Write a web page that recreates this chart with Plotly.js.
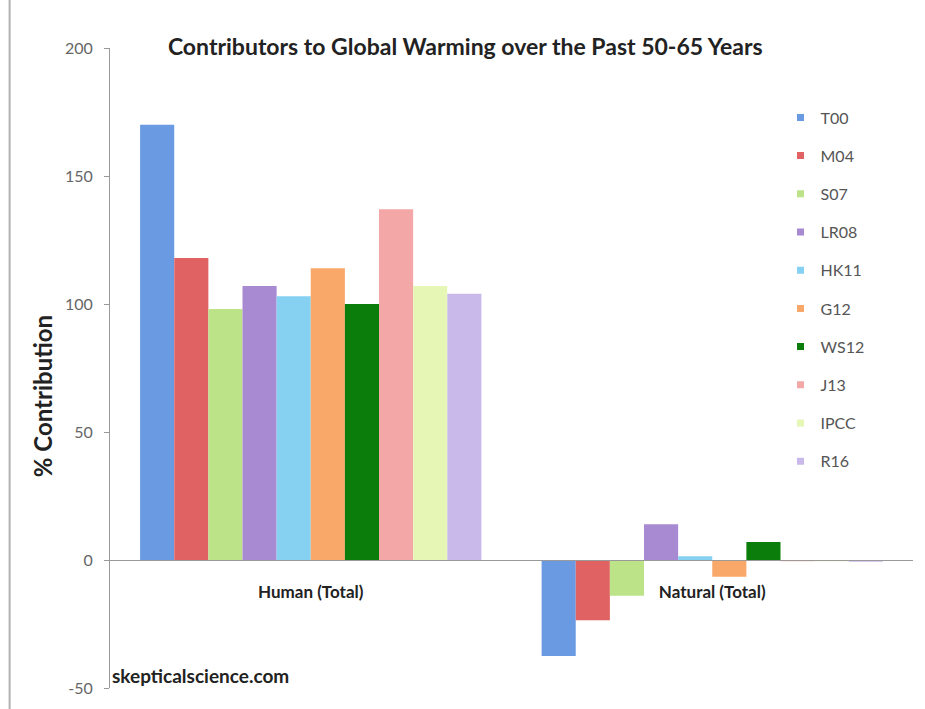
<!DOCTYPE html>
<html>
<head>
<meta charset="utf-8">
<script src="https://cdn.plot.ly/plotly-3.0.1.min.js"></script>
<style>html,body{margin:0;padding:0;background:#fff;}#chart{width:925px;height:709px;}</style>
</head>
<body>
<div id="chart"></div>
<script>
const categories = ["Human (Total)", "Natural (Total)"];
const seriesNames = ["T00", "M04", "S07", "LR08", "HK11", "G12", "WS12", "J13", "IPCC", "R16"];
const humanValues = [170, 118, 98, 107, 103, 114, 100, 137, 107, 104];
const naturalValues = [-37.5, -23.5, -14, 14, 1.5, -6.5, 7, -0.5, -0.5, -0.7];
const colors = ["#6a9ae2", "#e06262", "#bde388", "#a88ad2", "#86d0f2", "#f9a86a", "#0b7d0b", "#f3a7a7", "#e6f6b4", "#c8b9ea"];
const yTicks = [-50, 0, 50, 100, 150, 200];

const barTraces = seriesNames.map((name, i) => ({
  type: "bar",
  name: name,
  x: categories,
  y: [humanValues[i], naturalValues[i]],
  marker: { color: colors[i], line: { width: 0 } },
  legendgroup: "g" + i,
  showlegend: false
}));

// legend-only entries with small square swatches
const legendTraces = seriesNames.map((name, i) => ({
  type: "scatter",
  mode: "markers",
  name: name,
  x: [null],
  y: [null],
  marker: { symbol: "square", size: 7, color: colors[i] },
  legendgroup: "g" + i,
  showlegend: true
}));

const layout = {
  width: 925,
  height: 709,
  margin: { l: 110, r: 12, t: 48, b: 21 },
  paper_bgcolor: "#ffffff",
  plot_bgcolor: "#ffffff",
  font: { family: "Lato, 'Open Sans', sans-serif", color: "#333" },
  barmode: "group",
  bargap: 0.15,
  bargroupgap: 0,
  showlegend: true,
  title: {
    text: "<b>Contributors to Global Warming over the Past 50-65 Years</b>",
    font: { size: 23, color: "#222", family: "Lato, sans-serif" },
    x: 0.503, xanchor: "center", xref: "container",
    y: 0.934, yanchor: "middle", yref: "container"
  },
  xaxis: {
    type: "category",
    anchor: "free",
    position: 0.2,
    showline: true,
    linecolor: "#9a9a9a",
    linewidth: 1,
    ticks: "",
    showgrid: false,
    zeroline: false,
    ticklabelstandoff: 17,
    tickfont: { size: 17, color: "#222", family: "Lato, sans-serif", weight: "bold" }
  },
  yaxis: {
    range: [-50, 200],
    tickvals: yTicks,
    ticktext: yTicks.map(String),
    showline: true,
    linecolor: "#9a9a9a",
    linewidth: 1,
    ticks: "outside",
    ticklen: 5,
    tickcolor: "#9a9a9a",
    showgrid: false,
    zeroline: false,
    tickfont: { size: 16, color: "#666", family: "Lato, sans-serif" },
    ticklabelstandoff: 8
  },
  legend: {
    x: 0.835, y: 0.918,
    xanchor: "left", yanchor: "top",
    bgcolor: "rgba(0,0,0,0)",
    font: { size: 16, color: "#555", family: "Lato, sans-serif" },
    tracegroupgap: 14.4,
    itemwidth: 30
  },
  annotations: [{
    text: "<b>% Contribution</b>",
    xref: "paper", yref: "paper",
    x: (42 - 110) / 803, y: 0.456,
    xanchor: "center", yanchor: "middle",
    textangle: -90,
    showarrow: false,
    font: { size: 24, color: "#222", family: "Lato, sans-serif" }
  }, {
    text: "<b>skepticalscience.com</b>",
    xref: "paper", yref: "paper",
    x: 0.0, y: 0.019,
    xanchor: "left", yanchor: "middle",
    showarrow: false,
    font: { size: 19, color: "#222", family: "Lato, sans-serif" }
  }],
  shapes: [{
    type: "line", xref: "paper", yref: "paper",
    x0: -0.125, x1: -0.125, y0: -0.05, y1: 1.1,
    line: { color: "#b0b0b0", width: 2 }
  }]
};

Plotly.newPlot("chart", barTraces.concat(legendTraces), layout, { displayModeBar: false, staticPlot: true });
</script>
</body>
</html>
